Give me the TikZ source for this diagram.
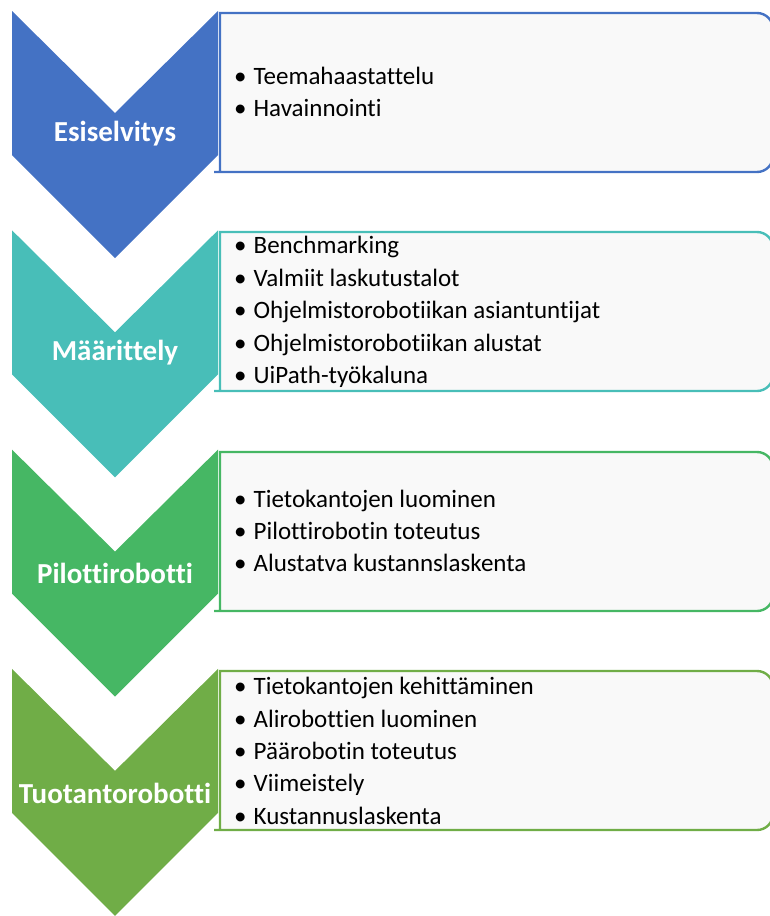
\documentclass[tikz,border=0pt]{standalone}
\usepackage{fontspec}
\setmainfont{Carlito}[Ligatures={NoCommon}]
\definecolor{esiblue}{HTML}{4472C4}
\definecolor{maarteal}{HTML}{48BEB8}
\definecolor{pilgreen}{HTML}{46B764}
\definecolor{tuogreen}{HTML}{70AD47}
\definecolor{boxfill}{HTML}{F9F9F9}
\begin{document}
\begin{tikzpicture}[x=1pt,y=-1pt,
  stage/.style={text=white,font=\fontsize{29}{34}\selectfont\bfseries,inner sep=0pt},
  items/.style={anchor=west,align=left,inner sep=0pt,font=\fontsize{25}{32.4}\selectfont},
  listbox/.style={fill=boxfill,line width=2.4pt,rounded corners=16pt}]
\useasboundingbox (0,0) rectangle (770,916);
\clip (0,0) rectangle (770,916);
% boxes first, the chevrons lie over their left edges
\draw[listbox,draw=esiblue] (220,172) [sharp corners] -- (220,13) [rounded corners=16pt] -- (773,13) -- (773,172) -- (230,172) [sharp corners] -- (220,172) -- cycle;
\draw[listbox,draw=maarteal] (220,391) [sharp corners] -- (220,232) [rounded corners=16pt] -- (773,232) -- (773,391) -- (230,391) [sharp corners] -- (220,391) -- cycle;
\draw[listbox,draw=pilgreen] (220,611) [sharp corners] -- (220,452) [rounded corners=16pt] -- (773,452) -- (773,611) -- (230,611) [sharp corners] -- (220,611) -- cycle;
\draw[listbox,draw=tuogreen] (220,830) [sharp corners] -- (220,671) [rounded corners=16pt] -- (773,671) -- (773,830) -- (230,830) [sharp corners] -- (220,830) -- cycle;
% chevrons
\fill[esiblue] (12,11) -- (115,113) -- (218,11) -- (218,155) -- (115,258) -- (12,155) -- cycle;
\fill[maarteal] (12,230.3) -- (115,332.3) -- (218,230.3) -- (218,374.3) -- (115,477.3) -- (12,374.3) -- cycle;
\fill[pilgreen] (12,449.6) -- (115,551.6) -- (218,449.6) -- (218,593.6) -- (115,696.6) -- (12,593.6) -- cycle;
\fill[tuogreen] (12,668.9) -- (115,770.9) -- (218,668.9) -- (218,812.9) -- (115,915.9) -- (12,812.9) -- cycle;
% labels
\node[stage] (esi) at (115,134) {Esiselvitys};
\node[stage] (maar) at (115,353) {Määrittely};
\node[stage] (pil) at (115,573) {Pilottirobotti};
\node[stage] (tuo) at (115,793) {Tuotantorobotti};
% lists
\node[items] (esilist) at (234,92) {\textbullet\hspace{7pt}Teemahaastattelu\\ \textbullet\hspace{7pt}Havainnointi};
\node[items] (maarlist) at (234,312) {\textbullet\hspace{7pt}Benchmarking\\ \textbullet\hspace{7pt}Valmiit laskutustalot\\ \textbullet\hspace{7pt}Ohjelmistorobotiikan asiantuntijat\\ \textbullet\hspace{7pt}Ohjelmistorobotiikan alustat\\ \textbullet\hspace{7pt}UiPath-työkaluna};
\node[items] (pillist) at (234,531) {\textbullet\hspace{7pt}Tietokantojen luominen\\ \textbullet\hspace{7pt}Pilottirobotin toteutus\\ \textbullet\hspace{7pt}Alustatva kustannslaskenta};
\node[items] (tuolist) at (234,751) {\textbullet\hspace{7pt}Tietokantojen kehittäminen\\ \textbullet\hspace{7pt}Alirobottien luominen\\ \textbullet\hspace{7pt}Päärobotin toteutus\\ \textbullet\hspace{7pt}Viimeistely\\ \textbullet\hspace{7pt}Kustannuslaskenta};
\end{tikzpicture}
\end{document}
